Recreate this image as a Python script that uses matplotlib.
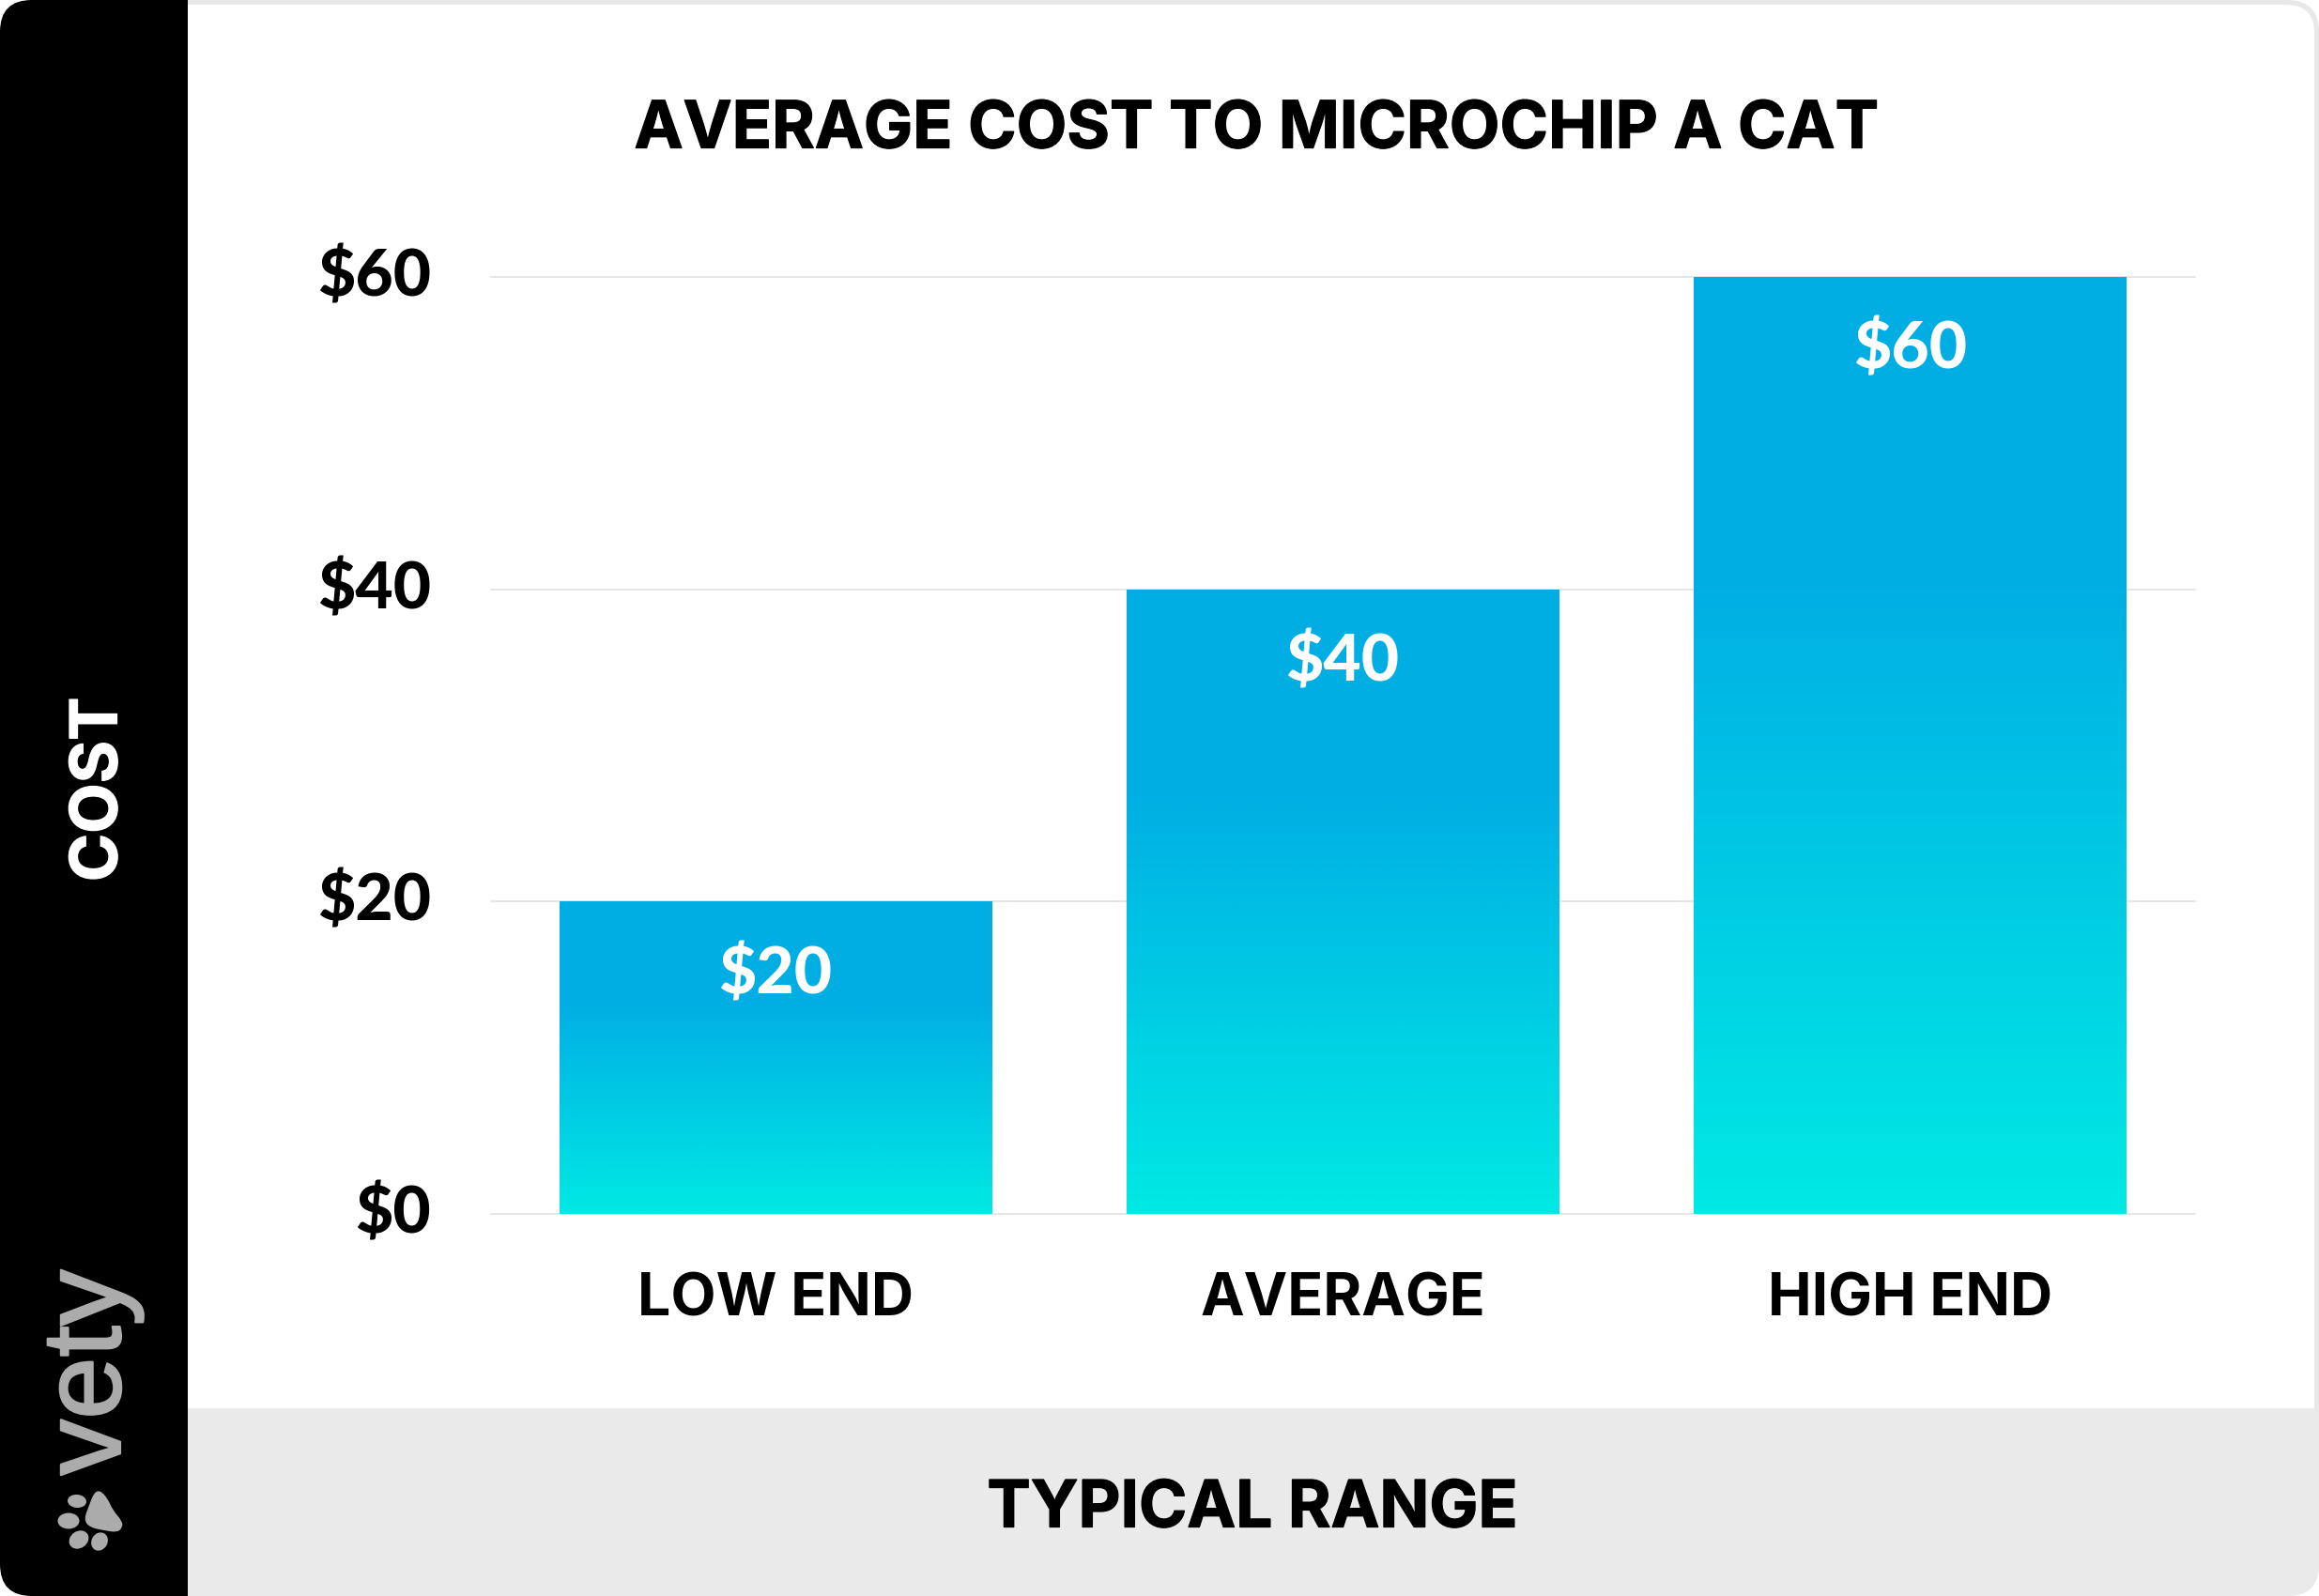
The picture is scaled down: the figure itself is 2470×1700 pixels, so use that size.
import matplotlib
matplotlib.use("Agg")
import matplotlib.pyplot as plt
import matplotlib.patheffects as pe
import numpy as np
from matplotlib.colors import LinearSegmentedColormap
from matplotlib.patches import FancyBboxPatch, Rectangle, Ellipse, PathPatch
from matplotlib.path import Path
from matplotlib.transforms import ScaledTranslation

W, H = 2470, 1700

categories = ["LOW END", "AVERAGE", "HIGH END"]
costs = [20, 40, 60]
yticks = [0, 20, 40, 60]
ytick_labels = ["$0", "$20", "$40", "$60"]
title = "AVERAGE COST TO MICROCHIP A CAT"
xlabel = "TYPICAL RANGE"
ylabel = "COST"

plt.rcParams["font.family"] = ["Inter", "Lato", "DejaVu Sans"]
heavy = [pe.withStroke(linewidth=0.9, foreground="black")]
heavy_w = [pe.withStroke(linewidth=0.9, foreground="white")]

fig = plt.figure(figsize=(W / 100, H / 100), dpi=100, facecolor="white")

# background card, pixel coords
bg = fig.add_axes([0, 0, 1, 1], zorder=0)
bg.set_xlim(0, W)
bg.set_ylim(H, 0)
bg.axis("off")

outer = FancyBboxPatch((0, 0), W, H, boxstyle="round,pad=0,rounding_size=34", fc="#E8E8E8", ec="none")
bg.add_patch(outer)
inner = FancyBboxPatch((100, 5), W - 105, H - 10, boxstyle="round,pad=0,rounding_size=30", fc="white", ec="none")
bg.add_patch(inner)
band = Rectangle((200, 1500), W - 200, 200, fc="#EAEAEA", ec="none")
bg.add_patch(band)
band.set_clip_path(outer)
panel = Rectangle((0, 0), 200, H, fc="black", ec="none")
bg.add_patch(panel)
panel.set_clip_path(outer)

# logo
bg.text(128, 1462, "vety", color="#ABABAB", fontsize=86, family="Liberation Sans",
        rotation=90, rotation_mode="anchor", ha="center", va="baseline",
        path_effects=[pe.withStroke(linewidth=1.6, foreground="#ABABAB")])
for cx, cy, w, h, ang in [(82, 1599, 20, 14, 5), (73, 1620, 23, 17, 0),
                          (84, 1640, 22, 18, -35), (106, 1642, 17, 20, 30)]:
    bg.add_patch(Ellipse((cx, cy), w, h, angle=ang, fc="#ABABAB", ec="none"))
pad_pts = np.array([(320, 1012), (345, 1040), (360, 1075), (390, 1110), (392, 1130), (375, 1147),
                    (330, 1140), (285, 1130), (268, 1105), (285, 1060), (300, 1020)]) / 3 + [0, 1250]
mids = (pad_pts + np.roll(pad_pts, -1, axis=0)) / 2
verts = [mids[-1]]
codes = [Path.MOVETO]
for p, m in zip(pad_pts, mids):
    verts += [p, m]
    codes += [Path.CURVE3, Path.CURVE3]
bg.add_patch(PathPatch(Path(verts, codes), fc="#ABABAB", ec="none"))

# title and axis names
bg.text(1338, 139, title, fontsize=50.2, fontweight="bold", color="black", ha="center", va="center",
        path_effects=heavy)
bg.text(1334, 1608, xlabel, fontsize=50, fontweight="bold", color="black", ha="center", va="center",
        path_effects=heavy)
bg.text(106, 841, ylabel, fontsize=50, fontweight="bold", color="white", ha="center", va="center",
        rotation=90, path_effects=heavy_w)

# plot area
left, right, top, bottom = 523, 2338, 295, 1293
ax = fig.add_axes([left / W, 1 - bottom / H, (right - left) / W, (bottom - top) / H], zorder=1)
ax.patch.set_visible(False)

x = np.arange(len(categories))
bars = ax.bar(x, costs, width=0.763, color="none", zorder=2)

cmap = LinearSegmentedColormap.from_list("bar", [(0, "#00AEE4"), (0.33, "#00AFE4"), (1, "#00E9E4")])
grad = np.linspace(0, 1, 256).reshape(-1, 1)
for b in bars:
    im = ax.imshow(grad, cmap=cmap, aspect="auto", zorder=2, interpolation="bilinear",
                   extent=(b.get_x(), b.get_x() + b.get_width(), 0, b.get_height()))
    im.set_clip_path(b)
ax.set_xlim(-0.5017, 2.503)
ax.set_ylim(0, 60)

for xi, v in zip(x, costs):
    ax.annotate(f"${v}", (xi, v), xytext=(0, -56), textcoords="offset points", ha="center",
                va="center", fontsize=50, family="Lato", fontweight="black", color="white", zorder=3)

ax.set_yticks(yticks, ytick_labels, fontsize=50, family="Lato", fontweight="black")
ax.set_xticks(x, categories, fontsize=45, fontweight="bold")
ax.tick_params(axis="y", length=0, pad=46)
ax.tick_params(axis="x", length=0, pad=45)
up = ScaledTranslation(0, 4 / 72, fig.dpi_scale_trans)
for t in ax.get_yticklabels():
    t.set_transform(t.get_transform() + up)
ax.grid(axis="y", color="#E2E2E2", lw=1.2, clip_on=False)
ax.set_axisbelow(True)
for s in ax.spines.values():
    s.set_visible(False)

fig.savefig("out.png", dpi=100)
